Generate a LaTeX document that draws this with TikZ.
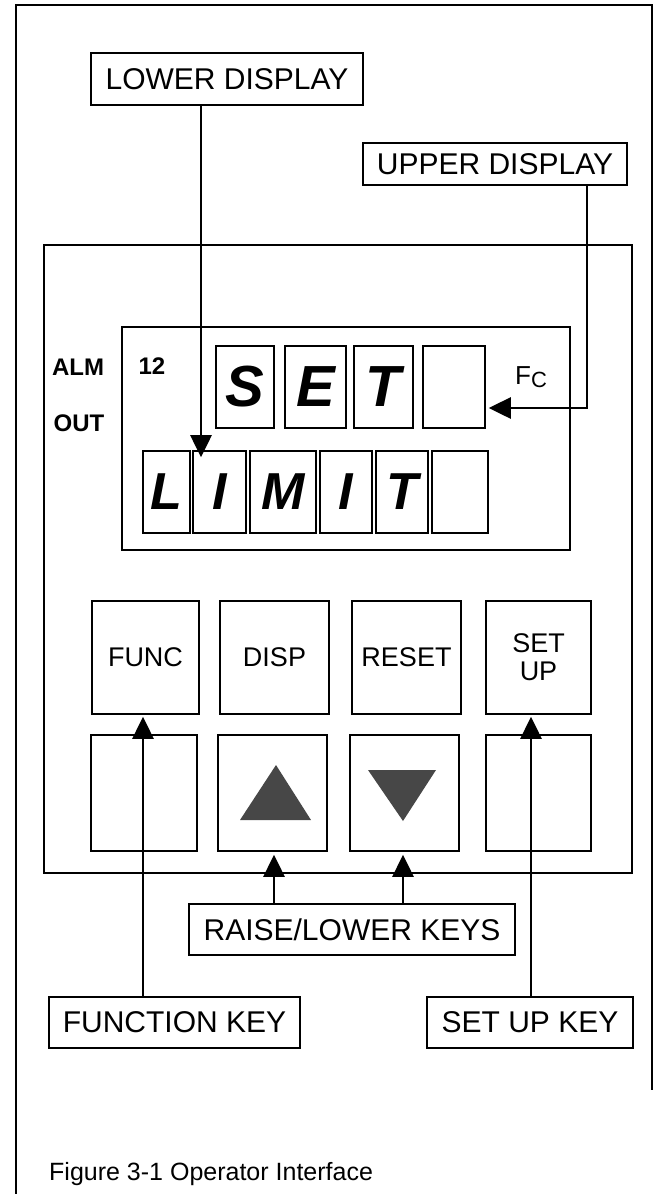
\documentclass[tikz,border=0pt]{standalone}
\usepackage{fontspec}
\setmainfont{Liberation Sans}
\usetikzlibrary{arrows.meta}
\newcommand\digUfont{\fontsize{58}{58}\selectfont\bfseries\itshape}
\newcommand\digLfont{\fontsize{52}{52}\selectfont\bfseries\itshape}
\begin{document}
\begin{tikzpicture}[x=1pt,y=-1pt,
  frame/.style={line width=1.2pt},
  boxed/.style={draw,line width=1.6pt,inner sep=0pt},
  lbl/.style={boxed,font=\fontsize{30}{30}\selectfont},
  keybox/.style={boxed,font=\fontsize{27}{28}\selectfont,align=center},
  digU/.style={boxed,font=\digUfont,minimum height=82pt},
  digL/.style={boxed,font=\digLfont,minimum height=82pt},
  small/.style={font=\fontsize{24}{24}\selectfont\bfseries,inner sep=0pt},
  ptr/.style={line width=2.8pt,-{Triangle[length=22pt,width=21pt]}},
  tri/.style={fill=black!72}
]
\useasboundingbox (0,0) rectangle (655,1194);
% outer frame
\draw[frame] (16,1194) -- (16,5) -- (652,5) -- (652,1090);
% callout labels
\node[lbl,minimum width=272pt,minimum height=52pt] (lower) at (227,79) {LOWER DISPLAY};
\node[lbl,minimum width=264pt,minimum height=42pt] (upper) at (495,164) {UPPER DISPLAY};
% panel and display
\node[boxed,minimum width=588pt,minimum height=628pt] (panel) at (338,559) {};
\node[boxed,minimum width=448pt,minimum height=223pt] (disp) at (346,438.5) {};
\node[small] (alm) at (78,367) {ALM};
\node[small] (out) at (79,423) {OUT};
\node[small] (twelve) at (152,366) {12};
\node[inner sep=0pt] (fc) at (531,377) {\fontsize{26}{26}\selectfont F\raisebox{-3pt}{\fontsize{22}{22}\selectfont C}};
% upper digits
\node[digU,minimum width=58pt] (us) at (245,387) {S};
\node[digU,minimum width=61pt] (ue) at (315.5,387) {E};
\node[digU,minimum width=59pt] (ut) at (383.5,387) {T};
\node[digU,minimum width=62pt] (ub) at (454,387) {};
% lower digits
\node[digL,minimum width=47pt] (ll) at (166.5,492) {L};
\node[digL,minimum width=53pt] (li) at (219.5,492) {I};
\node[digL,minimum width=66pt] (lm) at (283,492) {M};
\node[digL,minimum width=52pt] (li2) at (346,492) {I};
\node[digL,minimum width=52pt] (lt) at (402,492) {T};
\node[digL,minimum width=56pt] (lb) at (460,492) {};
% keys row 1
\node[keybox,minimum width=107pt,minimum height=113pt] (func) at (145.5,657.5) {FUNC};
\node[keybox,minimum width=109pt,minimum height=113pt] (dispk) at (274.5,657.5) {DISP};
\node[keybox,minimum width=109pt,minimum height=113pt] (reset) at (406.5,657.5) {RESET};
\node[keybox,minimum width=105pt,minimum height=113pt] (setup) at (538.5,657.5) {SET\\UP};
% keys row 2
\node[keybox,minimum width=106pt,minimum height=116pt] (k5) at (144,793) {};
\node[keybox,minimum width=109pt,minimum height=116pt] (upk) at (272.5,793) {};
\node[keybox,minimum width=109pt,minimum height=116pt] (downk) at (404.5,793) {};
\node[keybox,minimum width=105pt,minimum height=116pt] (k8) at (538.5,793) {};
\fill[tri] (276,765) -- (311,820) -- (240,820) -- cycle;
\fill[tri] (368,770) -- (436,770) -- (403,821) -- cycle;
% bottom labels
\node[lbl,minimum width=326pt,minimum height=51pt] (raise) at (352,929.5) {RAISE/LOWER KEYS};
\node[lbl,minimum width=251pt,minimum height=51pt] (fkey) at (174.5,1022.5) {FUNCTION KEY};
\node[lbl,minimum width=206pt,minimum height=51pt] (skey) at (530,1022.5) {SET UP KEY};
\node[anchor=base west,inner sep=0pt,font=\fontsize{25}{25}\selectfont] (cap) at (49,1180) {Figure 3-1 Operator Interface};
% pointer coordinates
\coordinate (lx) at (201,0);
\coordinate (ux) at (587,0);
\coordinate (fx) at (143,0);
\coordinate (sx) at (531,0);
\coordinate (rx1) at (274,0);
\coordinate (rx2) at (403,0);
% connectors
\draw[ptr] (lower.south -| lx) -- ([yshift=-7pt]li.north -| lx);
\draw[ptr] (upper.south -| ux) |- ([shift={(3pt,-21pt)}]ub.east);
\draw[ptr] (raise.north -| rx1) -- ([yshift=-3pt]upk.south -| rx1);
\draw[ptr] (raise.north -| rx2) -- ([yshift=-3pt]downk.south -| rx2);
\draw[ptr] (fkey.north -| fx) -- ([yshift=-2pt]func.south -| fx);
\draw[ptr] (skey.north -| sx) -- ([yshift=-2pt]setup.south -| sx);
\end{tikzpicture}
\end{document}
